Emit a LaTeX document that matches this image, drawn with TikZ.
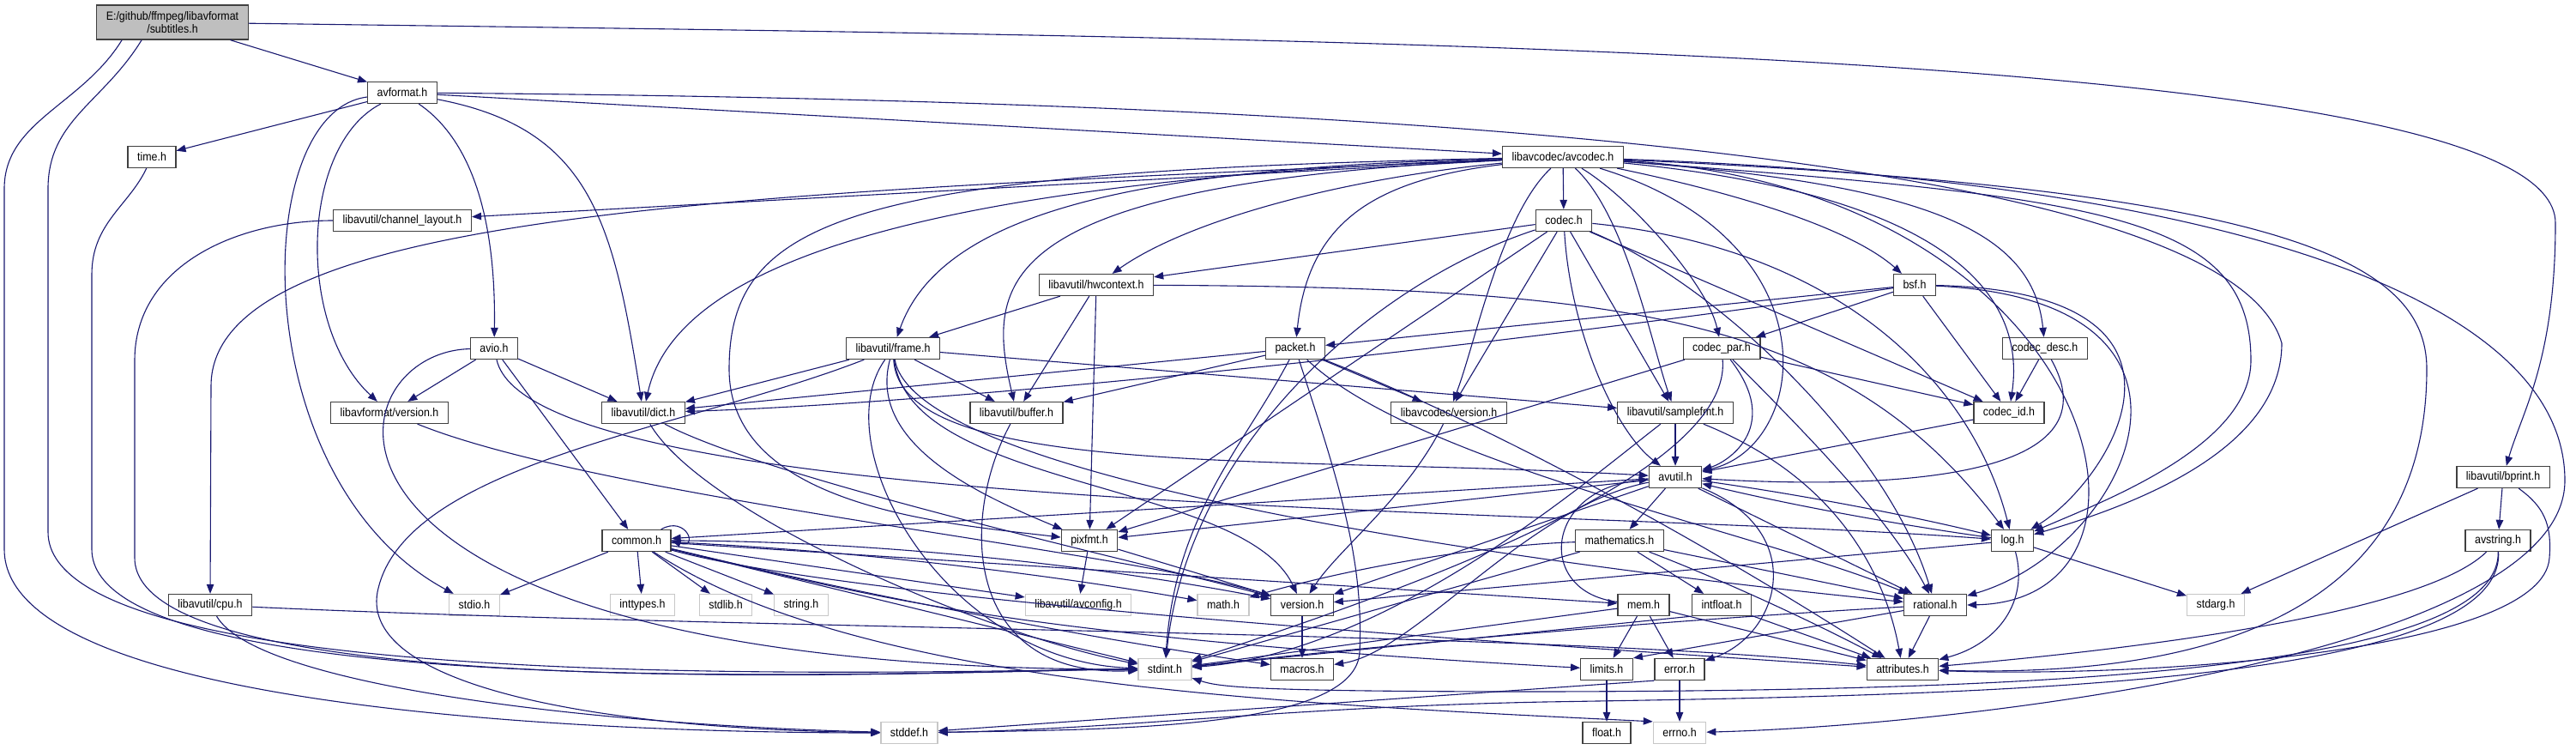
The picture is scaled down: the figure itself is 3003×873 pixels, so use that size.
\documentclass[tikz,border=0pt]{standalone}
\usepackage{fontspec}
\usepackage{xcolor}
\usepackage{tikz}
\usetikzlibrary{arrows.meta}
\newfontfamily\dxfont{Liberation Sans}[FakeStretch=0.9]
\definecolor{edgeblue}{HTML}{191970}
\definecolor{rootfill}{HTML}{BFBFBF}
\tikzstyle{hdr_node} = [rectangle, draw=black!75, line width=1.3pt, fill=white, minimum height=25pt, inner xsep=11pt, inner ysep=0pt, font=\dxfont\fontsize{13.8}{15.6}\selectfont]
\tikzstyle{sys_node} = [hdr_node, draw=black!22]
\tikzstyle{incl} = [draw=edgeblue, line width=1.1pt, -{Triangle[length=11pt,width=8.5pt]}]

\begin{document}
\begin{tikzpicture}[x=1pt, y=-1pt]
    \useasboundingbox (0,0) rectangle (3003,873);

    % Nodes (headers), one row per rank
    \node[hdr_node, fill=rootfill, align=center, minimum height=40pt] (root) at (201,26) {E:/github/ffmpeg/libavformat\\/subtitles.h};
    \node[hdr_node] (avformat) at (469,108) {avformat.h};
    \node[hdr_node] (timeh) at (177,183) {time.h};
    \node[hdr_node] (avcodec) at (1822,183) {libavcodec/avcodec.h};
    \node[hdr_node] (chlayout) at (469,257) {libavutil/channel\_layout.h};
    \node[hdr_node] (codec) at (1823,257) {codec.h};
    \node[hdr_node] (hwctx) at (1278,332) {libavutil/hwcontext.h};
    \node[hdr_node] (bsf) at (2232,332) {bsf.h};
    \node[hdr_node] (avio) at (576,406) {avio.h};
    \node[hdr_node] (frame) at (1041,406) {libavutil/frame.h};
    \node[hdr_node] (packet) at (1510,406) {packet.h};
    \node[hdr_node] (codecpar) at (2007,406) {codec\_par.h};
    \node[hdr_node] (codecdesc) at (2384,406) {codec\_desc.h};
    \node[hdr_node] (avfver) at (454,481) {libavformat/version.h};
    \node[hdr_node] (dict) at (750,481) {libavutil/dict.h};
    \node[hdr_node] (buffer) at (1185,481) {libavutil/buffer.h};
    \node[hdr_node] (avcver) at (1689,481) {libavcodec/version.h};
    \node[hdr_node] (samplefmt) at (1953,481) {libavutil/samplefmt.h};
    \node[hdr_node] (codecid) at (2342,481) {codec\_id.h};
    \node[hdr_node] (avutil) at (1953,556) {avutil.h};
    \node[hdr_node] (bprint) at (2918,556) {libavutil/bprint.h};
    \node[hdr_node] (common) at (742,630) {common.h};
    \node[hdr_node] (pixfmt) at (1270,630) {pixfmt.h};
    \node[hdr_node] (mathematics) at (1888,630) {mathematics.h};
    \node[hdr_node] (logh) at (2346,630) {log.h};
    \node[hdr_node] (avstring) at (2912,630) {avstring.h};
    \node[hdr_node] (cpu) at (245,705) {libavutil/cpu.h};
    \node[sys_node] (stdio) at (553,705) {stdio.h};
    \node[sys_node] (inttypes) at (749,705) {inttypes.h};
    \node[sys_node] (stdlib) at (846,705) {stdlib.h};
    \node[sys_node] (stringh) at (934,705) {string.h};
    \node[sys_node] (avconfig) at (1257,705) {libavutil/avconfig.h};
    \node[sys_node] (mathh) at (1426,705) {math.h};
    \node[hdr_node] (version) at (1518,705) {version.h};
    \node[hdr_node] (mem) at (1916,705) {mem.h};
    \node[hdr_node] (intfloat) at (2007,705) {intfloat.h};
    \node[hdr_node] (rational) at (2256,705) {rational.h};
    \node[sys_node] (stdarg) at (2583,705) {stdarg.h};
    \node[sys_node] (stdint) at (1358,780) {stdint.h};
    \node[hdr_node] (macros) at (1518,780) {macros.h};
    \node[hdr_node] (limits) at (1873,780) {limits.h};
    \node[hdr_node] (errorh) at (1958,780) {error.h};
    \node[hdr_node] (attributes) at (2218,780) {attributes.h};
    \node[sys_node] (stddef) at (1060,854) {stddef.h};
    \node[hdr_node] (floath) at (1873,854) {float.h};
    \node[sys_node] (errno) at (1958,854) {errno.h};

    % Bends of the long routes
    \coordinate (sdA) at (5,220);
    \coordinate (sdB) at (5,640);
    \coordinate (siA) at (56,220);
    \coordinate (siB) at (56,620);
    \coordinate (tmA) at (107,320);
    \coordinate (tmB) at (107,640);
    \coordinate (clA) at (157,420);
    \coordinate (clB) at (157,650);
    \coordinate (cpA) at (246,450);
    \coordinate (pxA) at (850,430);
    \coordinate (sdC) at (440,690);
    \coordinate (bpA) at (2979,260);
    \coordinate (bpB) at (2972,650);
    \coordinate (lgA) at (2660,400);
    \coordinate (lgB) at (2624,420);
    \coordinate (atA) at (2829,430);
    \coordinate (enA) at (2990,560);
    \coordinate (pkA) at (1585,760);
    \coordinate (asA) at (1800,818);
    \coordinate (asB) at (1800,806);

    % subtitles.h
    \draw[incl] (root) -- (avformat);
    \draw[incl] (root) .. controls (1600,45) and (2979,55) .. (bpA) .. controls (2979,420) and (2940,480) .. (bprint);
    \draw[incl] ([xshift=30pt]root.south west) .. controls (95,123) and (5,141) .. (sdA) -- (sdB) .. controls (5,844) and (822,854) .. (stddef);
    \draw[incl] ([xshift=53pt]root.south west) .. controls (120,120) and (56,140) .. (siA) -- (siB) .. controls (56,820) and (1125,780) .. (stdint);

    % avformat.h
    \draw[incl] (avformat) -- (timeh);
    \draw[incl] (avformat) .. controls (290,130) and (285,560) .. (stdio);
    \draw[incl] (avformat) .. controls (350,170) and (345,380) .. (avfver);
    \draw[incl] (avformat) .. controls (560,170) and (578,280) .. (avio);
    \draw[incl] (avformat) .. controls (690,150) and (715,260) .. (dict);
    \draw[incl] (avformat) -- (avcodec);
    \draw[incl] (avformat) .. controls (1700,118) and (2600,190) .. (lgA) .. controls (2660,520) and (2500,585) .. (logh);

    % time.h, channel_layout.h
    \draw[incl] (timeh) .. controls (150,240) and (107,260) .. (tmA) -- (tmB) .. controls (107,830) and (1130,780) .. (stdint);
    \draw[incl] (chlayout) .. controls (275,257) and (157,310) .. (clA) -- (clB) .. controls (157,830) and (1150,780) .. (stdint);

    % libavcodec/avcodec.h
    \draw[incl] (avcodec) -- (codec);
    \draw[incl] (avcodec) -- (chlayout);
    \draw[incl] (avcodec) .. controls (900,225) and (246,240) .. (cpA) -- (cpu);
    \draw[incl] (avcodec) .. controls (1100,210) and (790,300) .. (dict);
    \draw[incl] (avcodec) .. controls (1350,195) and (1100,240) .. (frame);
    \draw[incl] (avcodec) .. controls (1550,210) and (1380,260) .. (hwctx);
    \draw[incl] (avcodec) .. controls (1150,215) and (1150,330) .. (buffer);
    \draw[incl] (avcodec) .. controls (1000,200) and (850,250) .. (pxA) .. controls (850,590) and (1100,610) .. (pixfmt);
    \draw[incl] (avcodec) .. controls (1600,210) and (1525,260) .. (packet);
    \draw[incl] (avcodec) .. controls (1750,250) and (1720,400) .. (avcver);
    \draw[incl] (avcodec) .. controls (1895,250) and (1925,400) .. (samplefmt);
    \draw[incl] (avcodec) .. controls (2140,280) and (2110,520) .. (avutil);
    \draw[incl] (avcodec) .. controls (2000,220) and (2150,260) .. (bsf);
    \draw[incl] (avcodec) .. controls (2250,215) and (2370,270) .. (codecdesc);
    \draw[incl] (avcodec) .. controls (1900,230) and (1990,330) .. (codecpar);
    \draw[incl] (avcodec) .. controls (2300,230) and (2360,360) .. (codecid);
    \draw[incl] (avcodec) .. controls (2450,220) and (2560,700) .. (rational.east);
    \draw[incl] (avcodec) .. controls (2450,230) and (2624,250) .. (lgB) .. controls (2624,520) and (2450,585) .. (logh);
    \draw[incl] (avcodec) .. controls (2650,220) and (2829,300) .. (atA) .. controls (2829,700) and (2600,790) .. (attributes);
    \draw[incl] (avcodec) .. controls (2600,210) and (2990,350) .. (enA) .. controls (2990,760) and (2300,845) .. (errno);

    % codec.h
    \draw[incl] (codec) -- (avcver);
    \draw[incl] (codec) -- (samplefmt);
    \draw[incl] (codec) .. controls (1830,380) and (1880,500) .. (avutil);
    \draw[incl] (codec) -- (hwctx);
    \draw[incl] (codec) -- (pixfmt);
    \draw[incl] (codec) .. controls (1600,330) and (1385,520) .. (stdint);
    \draw[incl] (codec) .. controls (2150,290) and (2300,450) .. (logh);
    \draw[incl] (codec) .. controls (2000,330) and (2200,520) .. (rational);
    \draw[incl] (codec) -- (codecid);

    % libavutil/hwcontext.h
    \draw[incl] (hwctx) -- (buffer);
    \draw[incl] (hwctx) -- (frame);
    \draw[incl] (hwctx) -- (pixfmt);
    \draw[incl] (hwctx) .. controls (1900,335) and (2150,370) .. (logh);

    % bsf.h
    \draw[incl] (bsf) -- (packet);
    \draw[incl] (bsf) .. controls (1700,410) and (1100,470) .. (dict);
    \draw[incl] (bsf) -- (codecpar);
    \draw[incl] (bsf) -- (codecid);
    \draw[incl] (bsf) .. controls (2600,340) and (2460,560) .. (logh);
    \draw[incl] (bsf) .. controls (2620,350) and (2480,640) .. (rational);

    % avio.h
    \draw[incl] (avio) -- (avfver);
    \draw[incl] (avio) -- (dict);
    \draw[incl] (avio) -- (common);
    \draw[incl] (avio) .. controls (620,600) and (1800,590) .. (logh);
    \draw[incl] (avio) .. controls (380,410) and (300,780) .. (stdint);

    % libavutil/frame.h
    \draw[incl] (frame) -- (dict);
    \draw[incl] (frame) -- (buffer);
    \draw[incl] (frame) -- (samplefmt);
    \draw[incl] (frame) .. controls (1050,560) and (1500,530) .. (avutil);
    \draw[incl] (frame) .. controls (1010,520) and (1150,580) .. (pixfmt);
    \draw[incl] (frame) .. controls (1060,570) and (1450,560) .. (version);
    \draw[incl] (frame) .. controls (1070,580) and (2000,680) .. (rational);
    \draw[incl] (frame) .. controls (800,500) and (470,540) .. (sdC) .. controls (420,800) and (700,850) .. (stddef);
    \draw[incl] (frame) .. controls (960,520) and (1100,770) .. (stdint);

    % packet.h
    \draw[incl] (packet) -- (dict);
    \draw[incl] (packet) -- (buffer);
    \draw[incl] (packet) -- (avcver);
    \draw[incl] (packet) .. controls (1560,560) and (1590,650) .. (pkA) .. controls (1580,850) and (1300,850) .. (stddef);
    \draw[incl] (packet) .. controls (1450,520) and (1370,600) .. (stdint);
    \draw[incl] (packet) .. controls (1650,540) and (2050,620) .. (rational);
    \draw[incl] (packet) .. controls (1750,500) and (2000,640) .. (attributes);

    % codec_par.h, codec_desc.h, codec_id.h
    \draw[incl] (codecpar) -- (codecid);
    \draw[incl] (codecpar) -- (pixfmt);
    \draw[incl] (codecpar) .. controls (2080,500) and (2010,540) .. (avutil);
    \draw[incl] (codecpar) .. controls (2020,560) and (1600,700) .. (stdint);
    \draw[incl] (codecpar) .. controls (2100,500) and (2200,600) .. (rational);
    \draw[incl] (codecdesc) -- (codecid);
    \draw[incl] (codecdesc) .. controls (2470,560) and (2200,570) .. (avutil);
    \draw[incl] (codecid) -- (avutil);

    % version, dict, buffer, samplefmt, cpu
    \draw[incl] (avfver) .. controls (700,580) and (1300,640) .. (version);
    \draw[incl] (dict) .. controls (820,600) and (1150,740) .. (stdint);
    \draw[incl] (dict) .. controls (900,560) and (1350,660) .. (version);
    \draw[incl] (buffer) .. controls (1120,600) and (1120,790) .. (stdint);
    \draw[incl] (avcver) .. controls (1640,580) and (1560,640) .. (version);
    \draw[incl] (samplefmt) -- (avutil);
    \draw[incl] (samplefmt) .. controls (2150,560) and (2200,680) .. (attributes);
    \draw[incl] (samplefmt) .. controls (1850,560) and (1620,760) .. (stdint);
    \draw[incl] (cpu) .. controls (900,735) and (1800,735) .. (attributes);
    \draw[incl] (cpu) .. controls (300,800) and (700,845) .. (stddef);

    % avutil.h
    \draw[incl] (avutil) -- (common);
    \draw[incl] (avutil) -- (pixfmt);
    \draw[incl] (avutil) .. controls (2084,574) and (2215,598) .. (logh);
    \draw[incl] (avutil) -- (version);
    \draw[incl] (avutil) -- (mathematics);
    \draw[incl] (avutil) -- (rational);
    \draw[incl] (avutil) .. controls (2110,620) and (2075,740) .. (errorh);
    \draw[incl] (avutil) .. controls (1780,590) and (1650,760) .. (macros);

    % libavutil/bprint.h, avstring.h
    \draw[incl] (bprint) -- (avstring);
    \draw[incl] (bprint) -- (stdarg);
    \draw[incl] (bprint) .. controls (2965,590) and (2975,610) .. (bpB) .. controls (2965,760) and (2500,790) .. (attributes);
    \draw[incl] (avstring) .. controls (2920,800) and (2300,810) .. (asA) .. controls (1500,824) and (1300,850) .. (stddef);
    \draw[incl] (avstring) .. controls (2915,790) and (2300,805) .. (asB) .. controls (1450,806) and (1420,800) .. (stdint);
    \draw[incl] (avstring) .. controls (2820,720) and (2450,760) .. (attributes);

    % common.h
    \draw[incl] ([xshift=-12pt]common.north east) .. controls (800,600) and (815,640) .. (common.east);
    \draw[incl] (common) -- (stdio);
    \draw[incl] (common) -- (inttypes);
    \draw[incl] (common) -- (stdlib);
    \draw[incl] (common) -- (stringh);
    \draw[incl] (common) -- (avconfig);
    \draw[incl] (common) .. controls (970,640) and (1198,665) .. (mathh);
    \draw[incl] (common) .. controls (1001,630) and (1259,655) .. (version);
    \draw[incl] (common) -- (mem);
    \draw[incl] (common) .. controls (1000,690) and (1150,740) .. (limits);
    \draw[incl] (common) .. controls (1001,692) and (1259,742) .. (macros);
    \draw[incl] (common) -- (stdint);
    \draw[incl] (common) .. controls (1000,700) and (1700,745) .. (attributes);
    \draw[incl] (common) .. controls (1000,800) and (1500,820) .. (errno.north west);

    % pixfmt.h, mathematics.h
    \draw[incl] (pixfmt) -- (avconfig);
    \draw[incl] (pixfmt) -- (version);
    \draw[incl] (mathematics) -- (intfloat);
    \draw[incl] (mathematics) -- (rational);
    \draw[incl] (mathematics) .. controls (2001,673) and (2111,723) .. (attributes);
    \draw[incl] (mathematics) .. controls (1734,635) and (1580,660) .. (mathh);
    \draw[incl] (mathematics) -- (stdint);

    % log.h
    \draw[incl] (logh) -- (stdarg);
    \draw[incl] (logh) .. controls (2215,612) and (2084,588) .. (avutil);
    \draw[incl] (logh) .. controls (2365,700) and (2330,750) .. (attributes);
    \draw[incl] (logh) -- (version);

    % bottom rows
    \draw[incl] (version) -- (macros);
    \draw[incl] (mem) -- (limits);
    \draw[incl] (mem) -- (errorh);
    \draw[incl] (mem) -- (attributes);
    \draw[incl] (mem) -- (stdint);
    \draw[incl] (mem) .. controls (1790,690) and (1800,570) .. (avutil);
    \draw[incl] (intfloat.south west) -- (stdint);
    \draw[incl] (intfloat) -- (attributes);
    \draw[incl] (rational) -- (attributes);
    \draw[incl] (rational) .. controls (1957,722) and (1657,747) .. (stdint);
    \draw[incl] (rational) -- (limits.north east);
    \draw[incl] (limits) -- (floath);
    \draw[incl] (errorh) -- (errno);
    \draw[incl] (errorh.south west) -- (stddef);
\end{tikzpicture}
\end{document}
